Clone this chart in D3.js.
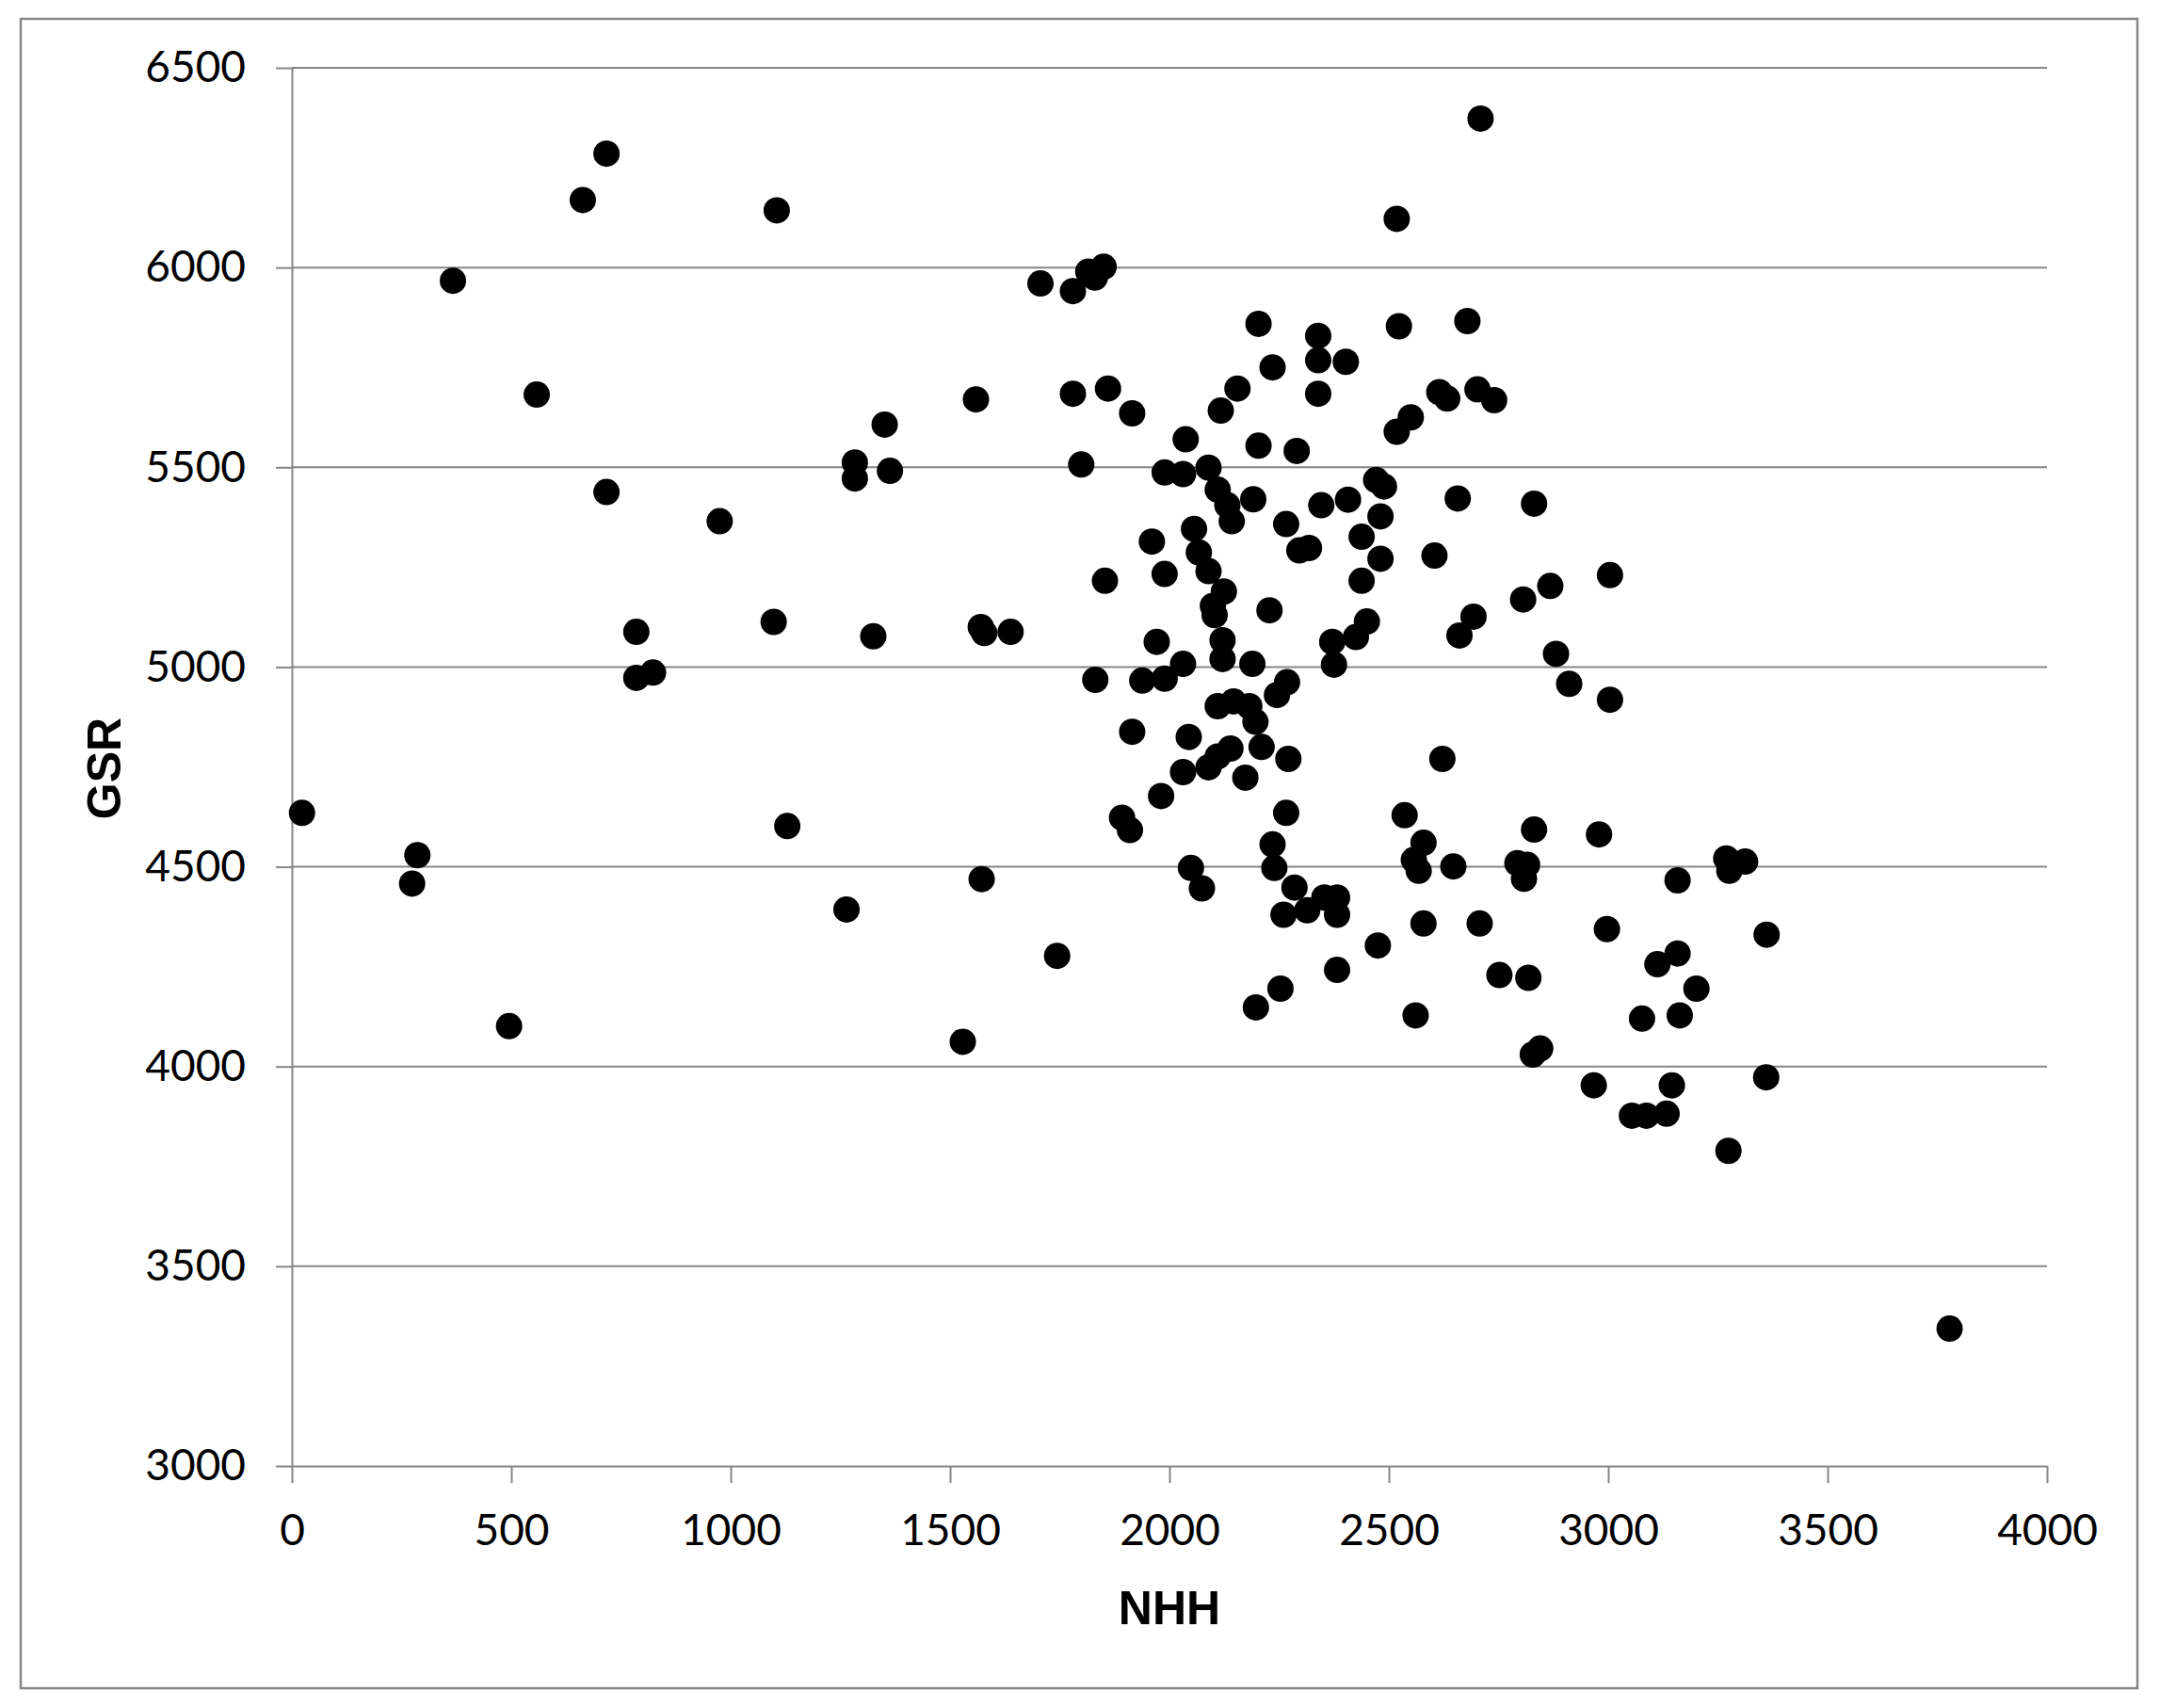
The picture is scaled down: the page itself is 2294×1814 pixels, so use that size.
<!DOCTYPE html>
<html>
<head>
<meta charset="utf-8">
<script src="https://cdn.jsdelivr.net/npm/d3@7"></script>
<style>
  html, body { margin: 0; padding: 0; background: #fff; }
  svg { display: block; }
</style>
</head>
<body>
<div id="chart"></div>
<script>
// values (NHH, GSR pairs)
var nhh = [
  23, 274, 286, 367, 495, 558, 663, 717, 717, 785,
  785, 823, 975, 1098, 1105, 1129, 1264, 1283, 1283, 1325,
  1351, 1363, 1529, 1559, 1570, 1578, 1572, 1638, 1706, 1744,
  1780, 1780, 1799, 1815, 1830, 1850, 1831, 1853, 1860, 1892,
  1910, 1915, 1915, 1938, 1960, 1971, 1981, 1989, 1989, 1989,
  2031, 2031, 2031, 2037, 2044, 2049, 2056, 2067, 2074, 2089,
  2089, 2089, 2099, 2103, 2110, 2110, 2110, 2117, 2121, 2121,
  2124, 2132, 2139, 2142, 2146, 2155, 2173, 2182, 2189, 2191,
  2196, 2197, 2203, 2203, 2210, 2228, 2235, 2235, 2239, 2245,
  2253, 2260, 2266, 2266, 2268, 2271, 2285, 2290, 2296, 2318,
  2314, 2339, 2339, 2339, 2346, 2353, 2371, 2375, 2382, 2382,
  2382, 2402, 2407, 2425, 2438, 2438, 2450, 2471, 2489, 2475,
  2481, 2481, 2518, 2523, 2518, 2550, 2536, 2557, 2568, 2579,
  2579, 2561, 2604, 2615, 2633, 2622, 2647, 2657, 2661, 2679,
  2693, 2702, 2709, 2707, 2740, 2752, 2793, 2815, 2808, 2806,
  2818, 2828, 2845, 2831, 2831, 2868, 2881, 2911, 2967, 2979,
  2997, 3004, 3004, 3054, 3087, 3077, 3112, 3133, 3145, 3158,
  3158, 3163, 3201, 3269, 3276, 3312, 3274, 3360, 3361, 3778
];
var gsr = [
  4635, 4458, 4529, 5967, 4101, 5682, 6169, 6285, 5438, 5088,
  4973, 4986, 5365, 5113, 6143, 4602, 4393, 5512, 5472, 5077,
  5607, 5491, 4062, 5670, 5100, 5085, 4469, 5088, 5960, 4277,
  5941, 5684, 5507, 5990, 5975, 6002, 4968, 5216, 5697, 4623,
  4592, 5635, 4838, 4966, 5314, 5063, 4677, 5487, 5233, 4971,
  5483, 5008, 4737, 5570, 4825, 4497, 5346, 5287, 4446, 5499,
  5240, 4749, 5153, 5130, 5444, 4902, 4776, 5642, 5067, 5020,
  5189, 5405, 4796, 5365, 4914, 5697, 4723, 4902, 5008, 5420,
  4863, 4148, 5859, 5554, 4800, 5142, 5750, 4556, 4497, 4930,
  4195, 4380, 5358, 4635, 4962, 4770, 4448, 5541, 5292, 5298,
  4391, 5829, 5768, 5684, 5405, 4423, 5063, 5006, 4423, 4380,
  4242, 5764, 5419, 5075, 5326, 5216, 5114, 5468, 5452, 4303,
  5377, 5271, 6122, 5853, 5589, 5625, 4629, 4517, 4490, 4560,
  4358, 4128, 5279, 5688, 5672, 4770, 4501, 5422, 5079, 5866,
  5126, 5695, 6373, 4358, 5668, 4229, 4509, 4505, 4470, 5169,
  4222, 4030, 4045, 5409, 4593, 5203, 5033, 4958, 3953, 4581,
  4344, 5230, 4918, 3877, 3877, 4120, 4256, 3882, 3953, 4466,
  4283, 4128, 4195, 4521, 4490, 4513, 3789, 3973, 4330, 3344
];
var xTicks = [0, 500, 1000, 1500, 2000, 2500, 3000, 3500, 4000];
var yTicks = [3000, 3500, 4000, 4500, 5000, 5500, 6000, 6500];
var xTitle = "NHH";
var yTitle = "GSR";

var w = 2294, h = 1814
    , plotLeft = 310, plotRight = 2174, plotTop = 72, plotBottom = 1557;
var gridColor = "#868686";

var svg = d3.select("div#chart")
    .append("svg")
    .attr("width", w)
    .attr("height", h);

// outer chart border
svg.append("rect")
    .attr("x", 22)
    .attr("y", 20)
    .attr("width", 2270 - 22)
    .attr("height", 1793 - 20)
    .attr("fill", "#fff")
    .attr("stroke", gridColor)
    .attr("stroke-width", 2.5);

var xScale = d3.scaleLinear().domain([0, 4000]).range([plotLeft, plotRight]);
var yScale = d3.scaleLinear().domain([3000, 6500]).range([plotBottom, plotTop]);

// horizontal gridlines
svg.append("g")
    .attr("class", "grid")
    .selectAll("line")
    .data(yTicks.filter(function(d) { return d !== 3000; }))
    .enter()
    .append("line")
    .attr("x1", plotLeft)
    .attr("x2", plotRight)
    .attr("y1", function(d) { return yScale(d); })
    .attr("y2", function(d) { return yScale(d); })
    .attr("stroke", gridColor)
    .attr("stroke-width", 2);

var xAxis = d3.axisBottom(xScale)
    .tickValues(xTicks)
    .tickFormat(d3.format("d"))
    .tickSize(18)
    .tickSizeOuter(0)
    .tickPadding(33);
var yAxis = d3.axisLeft(yScale)
    .tickValues(yTicks)
    .tickFormat(d3.format("d"))
    .tickSize(17)
    .tickSizeOuter(0)
    .tickPadding(32);

var gx = svg.append("g")
    .attr("class", "x axis")
    .attr("transform", "translate(0, " + plotBottom + ")")
    .call(xAxis);
var gy = svg.append("g")
    .attr("class", "y axis")
    .attr("transform", "translate(" + plotLeft + ", 0)")
    .call(yAxis);

[gx, gy].forEach(function(g) {
  g.select(".domain").attr("stroke", gridColor).attr("stroke-width", 2);
  g.selectAll(".tick line").attr("stroke", gridColor).attr("stroke-width", 2);
  g.selectAll(".tick text")
      .attr("fill", "#000")
      .style("font-family", "Lato, 'Open Sans', sans-serif")
      .style("font-size", "46px");
});

// points
svg.append("g")
    .attr("class", "contentContainer")
    .selectAll("circle")
    .data(d3.range(nhh.length))
    .enter()
    .append("circle")
    .attr("cx", function(i) { return xScale(nhh[i]); })
    .attr("cy", function(i) { return yScale(gsr[i]); })
    .attr("r", 14)
    .attr("fill", "#000");

// axis titles
svg.append("text")
    .attr("x", (plotLeft + plotRight) / 2)
    .attr("y", 1725)
    .attr("text-anchor", "middle")
    .style("font-family", "'Liberation Sans', Arial, sans-serif")
    .style("font-weight", "bold")
    .style("font-size", "50px")
    .text(xTitle);

svg.append("text")
    .attr("transform", "translate(128, " + 816 + ") rotate(-90)")
    .attr("text-anchor", "middle")
    .style("font-family", "'Liberation Sans', Arial, sans-serif")
    .style("font-weight", "bold")
    .style("font-size", "50px")
    .text(yTitle);
</script>
</body>
</html>
